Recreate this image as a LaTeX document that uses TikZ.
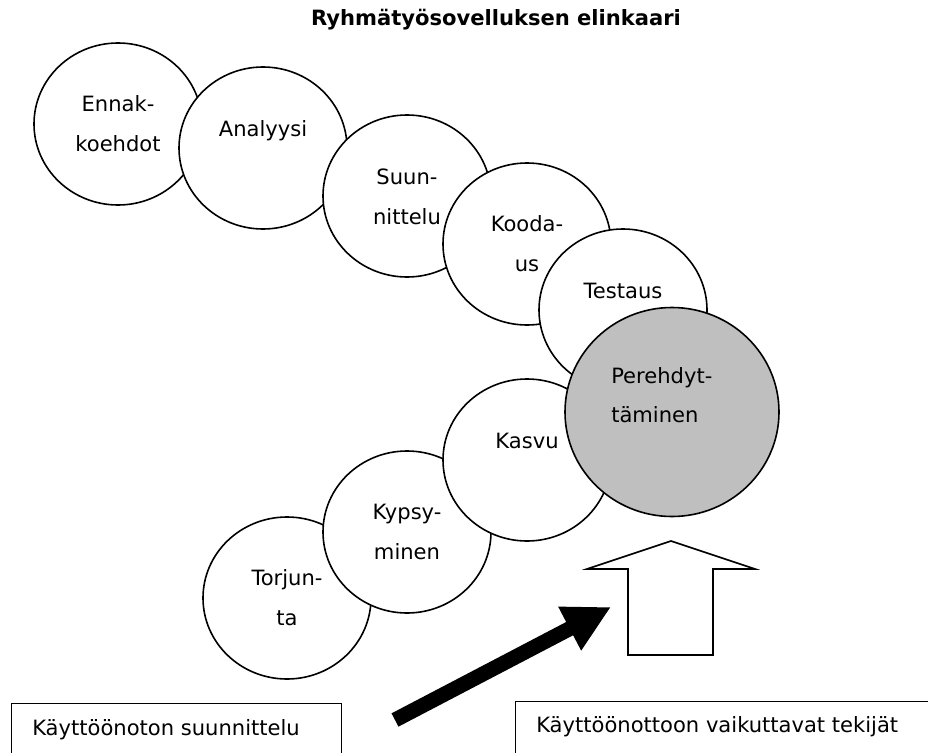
\documentclass[tikz,border=0pt]{standalone}
\usepackage{fontspec}
\setmainfont{DejaVu Sans}
\usetikzlibrary{shapes.geometric,arrows.meta,positioning,calc}
\newcommand{\pxunit}{0.75pt}
\colorlet{phasegray}{black!25}
\tikzset{
    phasesty/.style={draw,fill=white,ellipse,line width=1.2pt,inner sep=0pt,outer sep=0pt,minimum width=168*\pxunit,minimum height=162*\pxunit},
    activesty/.style={phasesty,fill=phasegray,minimum width=214*\pxunit,minimum height=209*\pxunit},
    phasetxtsty/.style={anchor=base,align=center,inner sep=0pt,font={\fontsize{15.8}{29.5}\selectfont}},
    titlesty/.style={anchor=base,inner sep=0pt,font={\fontsize{15.8}{19}\selectfont\bfseries}},
    boxsty/.style={draw,line width=1pt,rectangle,anchor=north west,inner sep=0pt},
    boxtxtsty/.style={anchor=base west,inner sep=0pt,font={\fontsize{15.8}{19}\selectfont}},
    hollowsty/.style={draw,fill=white,line width=1.2pt,line join=miter},
    pushsty/.style={line width=11.25pt,-{Triangle[length=35pt,width=34.5pt]}},
}

\begin{document}
\begin{tikzpicture}[x=\pxunit,y=-\pxunit]
\useasboundingbox (0,0) rectangle (928,753);
\clip (0,0) rectangle (928,753);

\node[titlesty] (title) at (496,26) {Ryhmätyösovelluksen elinkaari};

\node[phasesty] (ennak) at (118,124) {};
\node[phasesty] (analyysi) at (263,148) {};
\node[phasesty] (suun) at (407,196) {};
\node[phasesty] (kooda) at (527,244) {};
\node[phasesty] (testaus) at (623,310) {};
\node[phasesty] (torjunta) at (287,598) {};
\node[phasesty] (kypsy) at (407,532) {};
\node[phasesty] (kasvu) at (527,460) {};
\node[activesty] (perehd) at (672,412) {};

% base = baseline of the last line
\node[phasetxtsty] (ennaktxt) at ([yshift=-108*\pxunit]ennak.north) {Ennak-\\koehdot};
\node[phasetxtsty] (analyysitxt) at ([yshift=-69*\pxunit]analyysi.north) {Analyysi};
\node[phasetxtsty] (suuntxt) at ([yshift=-109*\pxunit]suun.north) {Suun-\\nittelu};
\node[phasetxtsty] (koodatxt) at ([yshift=-108*\pxunit]kooda.north) {Kooda-\\us};
\node[phasetxtsty] (testaustxt) at ([yshift=-69*\pxunit]testaus.north) {Testaus};
\node[phasetxtsty,anchor=base west,align=left] (perehdtxt) at ([xshift=-61*\pxunit,yshift=-115*\pxunit]perehd.north) {Perehdyt-\\täminen};
\node[phasetxtsty] (kasvutxt) at ([yshift=-69*\pxunit]kasvu.north) {Kasvu};
\node[phasetxtsty] (kypsytxt) at ([yshift=-108*\pxunit]kypsy.north) {Kypsy-\\minen};
\node[phasetxtsty] (torjuntatxt) at ([yshift=-108*\pxunit]torjunta.north) {Torjun-\\ta};

\coordinate (uptip) at (671,541);
\draw[hollowsty] (uptip) -- ++(-84,28) -- ++(41,0) -- ++(0,86) -- ++(85,0) -- ++(0,-86) -- ++(42,0) -- cycle;

\coordinate (pushtail) at (395,720);
\coordinate (pushtip) at (611,607);
\draw[pushsty] (pushtail) -- (pushtip);

\node[boxsty,minimum width=330*\pxunit,minimum height=80*\pxunit] (planbox) at (11,703) {};
\node[boxtxtsty] (plantxt) at ([xshift=21*\pxunit,yshift=-32*\pxunit]planbox.north west) {Käyttöönoton suunnittelu};
\node[boxsty,minimum width=440*\pxunit,minimum height=80*\pxunit] (factorbox) at (515,701) {};
\node[boxtxtsty] (factortxt) at ([xshift=21*\pxunit,yshift=-31*\pxunit]factorbox.north west) {Käyttöönottoon vaikuttavat tekijät};

\end{tikzpicture}
\end{document}
